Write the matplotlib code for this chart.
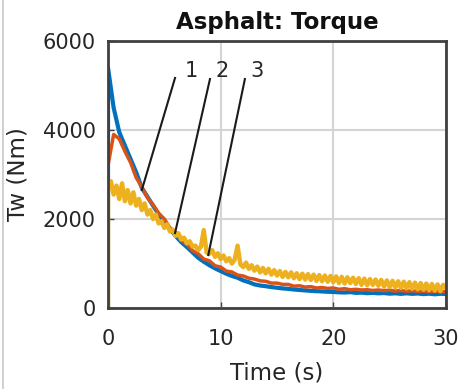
import numpy as np
import matplotlib
matplotlib.use("Agg")
import matplotlib.pyplot as plt
from matplotlib.lines import Line2D

# Wheel torque traces
t_half = np.arange(0, 30.01, 0.5)
t_quarter = np.arange(0, 30.01, 0.25)

tw_1 = [5400, 4500, 3950, 3650,
        3350, 3050, 2700, 2500,
        2300, 2100, 1950, 1780,
        1620, 1480, 1370, 1250,
        1130, 1040, 960, 890,
        830, 770, 720, 680,
        620, 580, 530, 505,
        490, 470, 455, 440,
        430, 415, 405, 395,
        385, 378, 372, 365,
        360, 352, 348, 356,
        340, 345, 333, 340,
        330, 336, 322, 330,
        318, 330, 318, 326,
        312, 322, 308, 320,
        315]

tw_2 = [3200, 3900, 3800, 3520,
        3270, 2930, 2720, 2480,
        2320, 2130, 2000, 1800,
        1700, 1520, 1440, 1290,
        1220, 1100, 1060, 950,
        920, 830, 810, 740,
        720, 670, 650, 610,
        600, 560, 560, 530,
        530, 490, 500, 470,
        480, 450, 460, 440,
        450, 420, 435, 410,
        420, 405, 410, 395,
        405, 390, 400, 380,
        395, 375, 390, 370,
        385, 365, 380, 360,
        370]

tw_3 = [2700, 2850, 2550, 2750, 2450, 2800, 2400, 2650,
        2350, 2600, 2300, 2450, 2200, 2350, 2100, 2200,
        2000, 2100, 1900, 1950, 1800, 1880, 1720, 1760,
        1620, 1680, 1540, 1580, 1450, 1500, 1380, 1400,
        1300, 1380, 1750, 1250, 1220, 1300, 1150, 1230,
        1100, 1180, 1050, 1120, 1000, 1090, 1400, 980,
        920, 1020, 880, 960, 840, 930, 800, 900,
        780, 880, 750, 850, 730, 830, 700, 810,
        690, 800, 670, 780, 650, 770, 640, 760,
        630, 750, 610, 740, 600, 730, 590, 720,
        580, 710, 560, 700, 550, 690, 560, 680,
        540, 670, 520, 660, 510, 650, 520, 640,
        500, 630, 480, 620, 470, 610, 460, 600,
        450, 590, 440, 580, 430, 570, 420, 560,
        410, 550, 400, 540, 390, 530, 380, 520,
        450]

# label callouts
callout_labels = ["1", "2", "3"]
callout_text = [(7.4, 5330), (10.1, 5330), (13.2, 5330)]
callout_top = [(5.95, 5170), (9.05, 5145), (12.15, 5145)]
callout_tip = [(3.0, 2650), (5.95, 1685), (8.9, 1190)]

colors = ["#0072BD", "#D95319", "#EDB120"]
widths = [3.0, 2.5, 3.2]
plt.rcParams["font.family"] = ["DejaVu Sans"]

fig = plt.figure(figsize=(4.62, 3.89), dpi=100)
ax = fig.add_axes([108 / 462, 81 / 389, 338 / 462, 267 / 389])

series = [(t_half, tw_1), (t_half, tw_2), (t_quarter, tw_3)]
for (t, y), c, w in zip(series, colors, widths):
    tt = np.concatenate([[0.0], t])
    yy = np.concatenate([[0.0], y])
    ax.plot(tt, yy, color=c, lw=w)

for lab, tx, top, tip in zip(callout_labels, callout_text, callout_top, callout_tip):
    ax.plot([top[0], tip[0]], [top[1], tip[1]], color="#1a1a1a", lw=1.5)
    ax.text(tx[0], tx[1], lab, fontsize=15, color="#262626", ha="center", va="center")

ax.set_xlim(0, 30)
ax.set_ylim(0, 6000)
ax.set_xticks([0, 10, 20, 30])
ax.set_yticks([0, 2000, 4000, 6000])
ax.grid(True, color="#d4d4d4", lw=1.5)
ax.set_axisbelow(True)
ax.tick_params(direction="in", length=4, width=1, colors="#404040",
               labelsize=15, labelcolor="#262626")
ax.tick_params(axis="y", pad=9)
ax.tick_params(axis="x", pad=15)
for s in ax.spines.values():
    s.set_color("#404040")
    s.set_linewidth(2)

ax.set_title("Asphalt: Torque", fontsize=16.5, fontweight="bold", color="#111111", pad=9)
ax.set_xlabel("Time (s)", fontsize=16.5, color="#262626", labelpad=9)
ax.set_ylabel("Tw (Nm)", fontsize=16.5, color="#262626", labelpad=9)

fig.add_artist(Line2D([3 / 462, 3 / 462], [0, 1], color="#c8c8c8", lw=1.2))

fig.savefig("out.png", dpi=100)
